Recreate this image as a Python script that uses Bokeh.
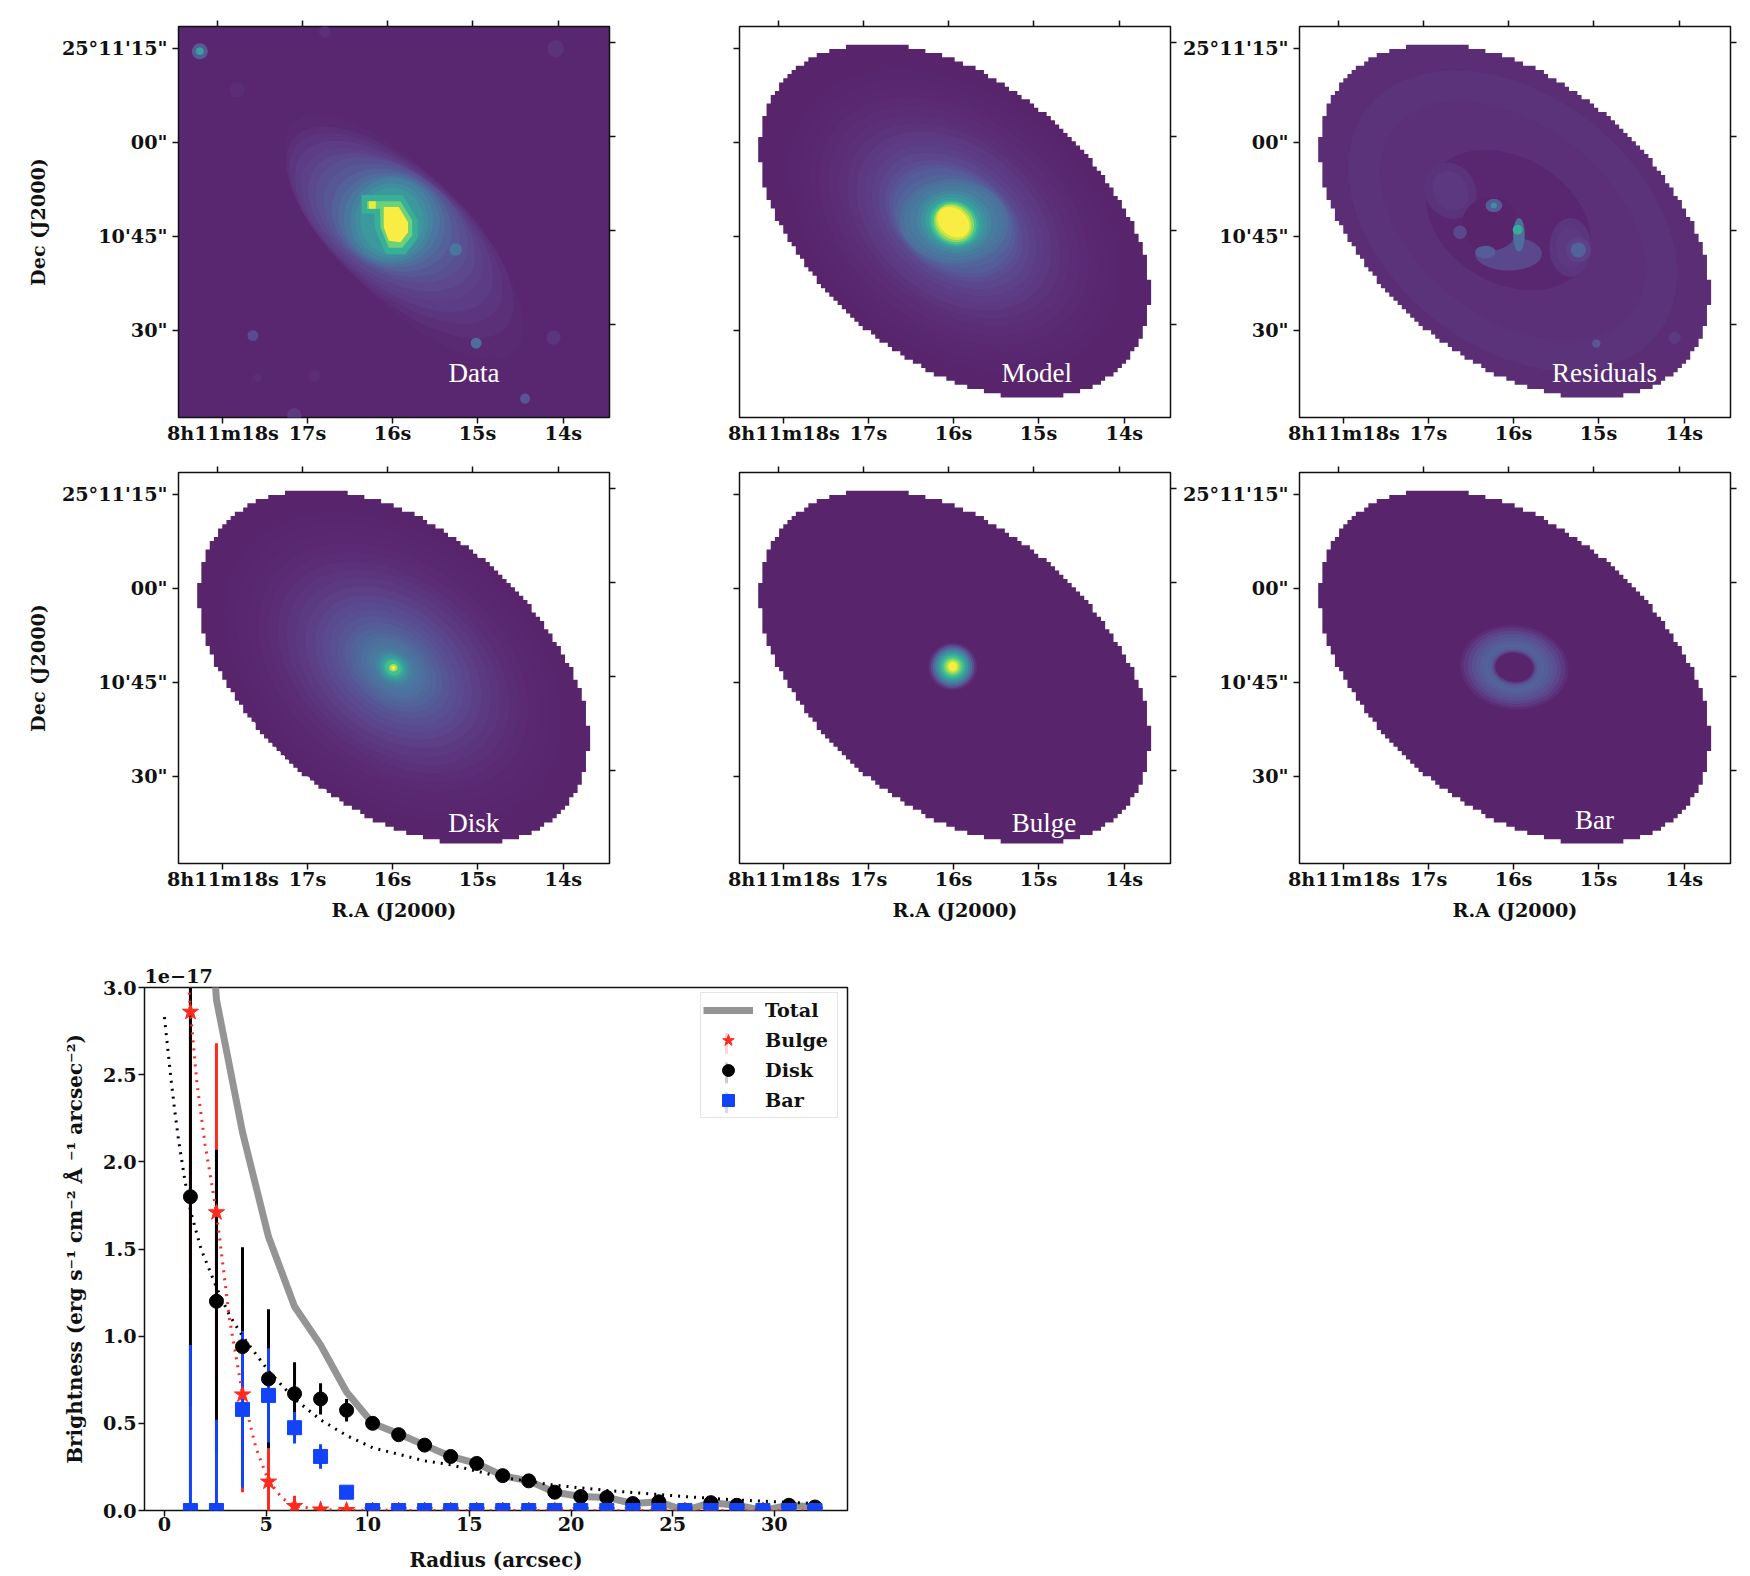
from bokeh.plotting import figure
from bokeh.layouts import column, row
from bokeh.models import (ColumnDataSource, FixedTicker, Label, Legend, LegendItem, LinearAxis,
                          LinearColorMapper, Range1d)
from bokeh.palettes import Viridis256
from bokeh.transform import transform
from bokeh.embed import file_html
from bokeh.resources import INLINE

FONT = "DejaVu Serif"
TICK_PX = "19.2px"

# ---------- image panels: values, in image-pixel coordinates ----------
x_tick_vals = [10.62, 30.86, 51.2, 71.53, 92.06]
x_tick_text = ["8h11m18s", "17s", "16s", "15s", "14s"]
x_top_vals = [9.35, 29.6, 49.9, 70.3, 90.8]
y_tick_vals = [87.8, 65.5, 43.2, 20.7]
y_tick_text = ["25°11'15\"", "00\"", "10'45\"", "30\""]
y_right_vals = [89.2, 67.0, 44.6, 22.1]

# left edge (in image pixels from the leftmost mask pixel) of each mask row, from the top
mask_left = [21, 17, 14, 12, 11, 9, 8, 7, 6, 5, 5, 4, 3, 3, 2, 2, 2, 1, 1, 1, 1, 1, 0, 0, 0, 0, 0, 0,
             1, 1, 1, 1, 1, 1, 2, 2, 2, 3, 3, 4, 4, 4, 5, 6, 6, 7, 7, 8, 9, 9, 10, 11, 11, 12, 13, 14,
             14, 15, 16, 17, 18, 19, 20, 21, 22, 23, 24, 25, 27, 28, 29, 31, 32, 34, 35, 37, 39, 40,
             42, 45, 47, 50, 54, 58]
mask_right = [94 - v for v in reversed(mask_left)]
mask_x0 = 4.47
mask_y_top = 88.77

# isophotes: (centre x, centre y, semi-major, semi-minor, angle deg, level)
model_iso = [
    (51.3, 46.8, 47, 32.5, -38, .006), (51.3, 46.8, 44, 30.5, -38, .010), (51.3, 46.8, 41, 28.5, -38, .014),
    (51.3, 46.8, 38.5, 26.7, -38, .018), (51.3, 46.8, 36, 25, -38, .024), (51.3, 46.8, 33.5, 23, -38, .032),
    (51.3, 46.8, 31, 21, -38, .042), (51.3, 46.8, 28.5, 19.5, -38, .053), (51.3, 46.8, 26, 18, -38, .067),
    (51.3, 46.8, 24, 16.5, -38, .082), (51.3, 46.8, 22, 15, -38, .10), (51.3, 46.8, 20, 13.7, -37, .12),
    (51.3, 46.8, 18, 12.5, -35, .145), (51.3, 46.8, 16.7, 12, -32, .17), (51.3, 46.8, 15.5, 11.5, -30, .2),
    (51.3, 46.7, 14.2, 10.7, -18, .235),
    (51.3, 46.7, 13, 10, -5, .27), (51.3, 46.7, 12, 9.3, -5, .30), (51.3, 46.7, 10.5, 8.4, -5, .33),
    (51.3, 46.6, 9, 7.4, -10, .38), (51.3, 46.6, 8, 6.6, -15, .43), (51.3, 46.5, 7, 5.9, -20, .5),
    (51.3, 46.3, 6.2, 5.3, -25, .58), (51.3, 46.3, 5.6, 4.9, -30, .68), (51.3, 46.3, 5, 4.4, -35, .8),
    (51.2, 46.4, 4.6, 3.8, -40, .92), (51.2, 46.5, 4.2, 3.2, -40, 1.0),
]
disk_iso = [
    (51.4, 46.7, 48, 33, -38, .006), (51.4, 46.7, 45, 31, -38, .010), (51.4, 46.7, 42, 29, -38, .014),
    (51.4, 46.7, 39, 27, -38, .018), (51.4, 46.7, 36, 25, -38, .024), (51.4, 46.7, 33.5, 23, -38, .032),
    (51.4, 46.7, 31, 21, -38, .045), (51.4, 46.7, 28.5, 19.5, -38, .058), (51.4, 46.7, 26, 18, -38, .072),
    (51.4, 46.7, 23.5, 16.2, -38, .09), (51.4, 46.7, 21, 14.5, -38, .11), (51.4, 46.7, 19, 13, -38, .13),
    (51.4, 46.7, 17, 11.5, -38, .15), (51.4, 46.7, 15, 10.2, -38, .175), (51.4, 46.7, 13, 9, -38, .2),
    (51.4, 46.6, 11.5, 8, -38, .225), (51.4, 46.6, 10, 7, -38, .25), (51.4, 46.6, 8.7, 6.2, -38, .27),
    (51.4, 46.6, 7.5, 5.5, -38, .29), (51.4, 46.6, 6.5, 4.7, -38, .31), (51.4, 46.6, 5.5, 4, -38, .33),
    (51.4, 46.6, 4.7, 3.6, -35, .36), (51.4, 46.6, 4, 3.2, -35, .4), (51.4, 46.6, 3.5, 2.8, -35, .45),
    (51.4, 46.6, 3, 2.5, -35, .5), (51.4, 46.6, 2.5, 2.1, -35, .57), (51.4, 46.6, 2, 1.7, -35, .65),
    (51.4, 46.6, 1, .9, 0, .85), (51.4, 46.6, .5, .5, 0, 1.0),
]
bulge_iso = [
    (51.0, 46.9, 5.8, 5.6, 0, .05), (51.0, 46.9, 5.2, 5.1, 0, .15), (51.0, 46.9, 4.7, 4.6, 0, .25),
    (51.0, 46.9, 4.2, 4.1, 0, .35), (51.0, 46.9, 3.7, 3.6, 0, .45), (51.0, 46.9, 3.2, 3.1, 0, .55),
    (51.0, 46.9, 2.7, 2.6, 0, .65), (51.0, 46.9, 2.2, 2.1, 0, .75), (51.0, 46.9, 1.7, 1.7, 0, .85),
    (51.0, 46.9, 1.3, 1.3, 0, .93), (51.0, 46.9, 1.0, 1.0, 0, 1.0),
]
bar_iso = [
    (51.4, 46.7, 13, 10, -6, .035), (51.4, 46.7, 12.2, 9.4, -6, .07), (51.4, 46.7, 11.2, 8.7, -6, .11),
    (51.4, 46.7, 10.2, 8, -6, .15), (51.4, 46.7, 9.2, 7.2, -6, .18), (51.4, 46.7, 8.2, 6.4, -6, .205),
    (51.4, 46.7, 7.2, 5.7, -6, .225), (51.4, 46.7, 6.2, 4.9, -6, .21), (51.4, 46.7, 5.5, 4.3, -6, .16),
    (51.4, 46.7, 5, 3.9, -6, .08), (51.4, 46.7, 4.6, 3.5, -6, 0),
]
data_iso = [
    (54, 43, 38, 15, -46, .02), (53, 44, 34, 15, -42, .04), (52, 45, 31, 14.5, -40, .06),
    (51.5, 45.5, 28, 14, -38, .08), (51, 46, 25, 13.5, -36, .10), (51, 46.5, 22.5, 13, -34, .125),
    (51, 47, 20, 12.5, -32, .15), (51, 47, 17.5, 12, -30, .18), (51, 47, 15, 11.5, -27, .22),
    (51, 47, 13, 11, -22, .26), (51, 47, 11.5, 10.5, -15, .31), (51, 47, 10, 10, 0, .36),
    (51, 46.8, 8.8, 9, 0, .41), (51, 46.8, 7.5, 8, 0, .47),
]
resid_iso = [
    (51, 46.8, 44, 30, -38, .048), (51, 46.8, 36, 23, -38, .04), (50, 47, 21, 15, -30, .012),
    (36.1, 54, 7, 6, -60, .05), (36.1, 54, 5, 4, -60, .065), (64.8, 40.5, 5, 7, 0, .055), (64.8, 40.5, 3.5, 5, 0, .07),
    (50, 39, 8, 4, 0, .12), (66.7, 39.9, 3, 3, 0, .1),
    (45.7, 46.1, 6.8, 6.4, 0, 0), (66.7, 39.9, 1.8, 1.8, 0, .22), (44.5, 39.4, 2.4, 1.5, 0, .2),
    (38.4, 44.1, 1.6, 1.6, 0, .12), (52.5, 43.5, 1.4, 4, 0, .27), (46.5, 50.5, 2, 1.6, 0, .2),
    (71, 17.6, 1, 1, 0, .18), (89.7, 19, 1.5, 1.5, 0, .07),
]
data_spots = [  # (x, y, half size, level)
    (5.1, 87.2, 1.9, .2), (5.1, 87.2, .9, .5), (90.2, 87.8, 2, .05), (17.8, 19.5, 1.3, .13), (71.2, 17.7, 1.3, .27),
    (89.7, 19, 1.7, .06), (82.9, 4.5, 1.2, .17), (66.3, 40, 1.5, .3), (35, 91.8, 1.4, .04), (14, 78, 1.8, .035),
    (27.7, .5, 1.7, .07), (19, 9.6, 1, .035), (32.6, 10, 1.5, .03),
]
resid_spots = [(46.5, 50.5, .7, .42), (52.2, 44.7, 1.2, .55)]
data_polys = [  # (xs, ys, level)
    ([43.8, 53.6, 57.2, 57.2, 54.2, 49.6, 47, 46.8, 43.8], [53, 53, 47, 42.8, 38.9, 38.9, 45, 48.5, 48.5], .58),
    ([45.1, 53.1, 55.9, 55.9, 53.5, 50.3, 48.3, 48.2, 45.1], [51.5, 51.5, 46.9, 43.3, 40.4, 40.4, 45.3, 49.7, 49.7], .75),
    ([49.1, 52.7, 54.9, 54.9, 53.1, 50.3, 49.1], [50.1, 50.1, 46.5, 44.1, 41.7, 42.1, 45.3], 1.0),
    ([45.5, 47.2, 47.2, 45.5], [51.5, 51.5, 49.7, 49.7], .98),
]

# ---------- radial profile ----------
radius = [1.28, 2.56, 3.84, 5.12, 6.40, 7.68, 8.96, 10.24, 11.52, 12.80, 14.08, 15.36, 16.64, 17.92, 19.20,
          20.48, 21.76, 23.04, 24.32, 25.60, 26.88, 28.16, 29.44, 30.72, 32.00]
total = [5.0, 2.93, 2.17, 1.57, 1.17, .95, .68, .50, .44, .375, .31, .27, .20, .17, .105, .08, .075, .04, .05, 0.0,
         .045, .03, 0.0, .03, .02]
disk = [1.80, 1.20, .94, .755, .67, .64, .575, .50, .435, .375, .31, .27, .20, .17, .105, .08, .075, .04, .05, 0.0,
        .045, .03, 0.0, .03, .02]
disk_err = [1.2, .87, .57, .40, .18, .09, .065, .03, .03, .03, .02, .02, .02, .02, .02, .02, .02, .01, .01, 0, .01,
            .01, 0, .01, .01]
bulge = [2.86, 1.71, .665, .165, .025, .005, .002, 0, 0, 0, 0, 0, 0, 0, 0, 0, 0, 0, 0, 0, 0, 0, 0, 0, 0]
bulge_err = [1.5, .97, .56, .19, .06, .02, .01, 0, 0, 0, 0, 0, 0, 0, 0, 0, 0, 0, 0, 0, 0, 0, 0, 0, 0]
bar = [0, 0, .58, .66, .475, .31, .105, 0, 0, 0, 0, 0, 0, 0, 0, 0, 0, 0, 0, 0, 0, 0, 0, 0, 0]
bar_err = [.95, .52, .45, .27, .09, .07, .035, 0, 0, 0, 0, 0, 0, 0, 0, 0, 0, 0, 0, 0, 0, 0, 0, 0, 0]
disk_fit_r = [0.0, .1, .3, .5, .7, 1.0, 1.28, 1.8, 2.56, 3.2, 3.84, 5.12, 6.4, 7.68, 8.96, 10.24, 12.8, 14.08, 16.64,
              19.2, 21.76, 25.6, 28.16, 32.0]
disk_fit = [2.83, 2.72, 2.5, 2.3, 2.12, 1.9, 1.72, 1.5, 1.28, 1.12, 1.0, .8, .64, .52, .43, .36, .285, .262, .19,
            .145, .115, .08, .06, .04]
bulge_fit_r = [1.1, 1.28, 1.6, 2.0, 2.56, 3.2, 3.84, 4.5, 5.12, 5.8, 6.4, 7.68, 8.96, 10.24, 15.0, 25.0, 32.0]
bulge_fit = [3.2, 2.86, 2.45, 2.1, 1.71, 1.1, .67, .36, .17, .07, .025, .006, .002, .001, 0, 0, 0]

# ---------- helpers ----------
palette = []
for c in Viridis256:
    r, g, b = int(c[1:3], 16), int(c[3:5], 16), int(c[5:7], 16)
    palette.append("#%02x%02x%02x" % (min(255, round(.87 * r + 29)), min(255, round(.87 * g + 35)),
                                      min(255, round(.87 * b + 35))))
mapper = LinearColorMapper(palette=palette, low=0, high=1)


def lev(v):
    return palette[min(255, int(v * 255))]


def style_axis(ax):
    ax.axis_line_color = None
    ax.major_tick_line_color = "#111111"
    ax.major_tick_line_width = 1.5
    ax.major_tick_out = 6
    ax.major_tick_in = 0
    ax.minor_tick_line_color = None
    ax.major_label_text_font = FONT
    ax.major_label_text_font_style = "bold"
    ax.major_label_text_font_size = TICK_PX
    ax.major_label_text_color = "#111111"
    ax.axis_label_text_font = FONT
    ax.axis_label_text_font_style = "bold"
    ax.axis_label_text_font_size = TICK_PX
    ax.axis_label_text_color = "#111111"


def hide_labels(ax, ticks):
    ax.major_label_overrides = {t: "" for t in ticks}
    ax.major_label_text_font_size = "1px"
    ax.major_label_standoff = 0


def panel(width, height, left, right, top, bottom, ylab, ylabel_text, xlabel_text, bg="white"):
    p = figure(width=width, height=height, x_range=Range1d(0, 103.1), y_range=Range1d(0, 93.1),
               output_backend="svg", toolbar_location=None, tools="",
               min_border_left=left, min_border_right=right, min_border_top=top, min_border_bottom=bottom,
               background_fill_color=bg, outline_line_color="#111111", outline_line_width=1.5)
    p.grid.visible = False
    style_axis(p.xaxis[0])
    style_axis(p.yaxis[0])
    p.xaxis[0].ticker = FixedTicker(ticks=x_tick_vals)
    p.xaxis[0].major_label_overrides = dict(zip(x_tick_vals, x_tick_text))
    p.xaxis[0].major_label_standoff = -2
    p.yaxis[0].ticker = FixedTicker(ticks=y_tick_vals)
    p.yaxis[0].major_label_overrides = dict(zip(y_tick_vals, y_tick_text))
    p.yaxis[0].major_label_standoff = 5
    if not ylab:
        hide_labels(p.yaxis[0], y_tick_vals)
    if ylabel_text:
        p.yaxis[0].axis_label = ylabel_text
        p.yaxis[0].axis_label_standoff = 9
    if xlabel_text:
        p.xaxis[0].axis_label = xlabel_text
        p.xaxis[0].axis_label_standoff = 5
    top_ax = LinearAxis(ticker=FixedTicker(ticks=x_top_vals))
    style_axis(top_ax)
    hide_labels(top_ax, x_top_vals)
    p.add_layout(top_ax, "above")
    right_ax = LinearAxis(ticker=FixedTicker(ticks=y_right_vals))
    style_axis(right_ax)
    hide_labels(right_ax, y_right_vals)
    p.add_layout(right_ax, "right")
    return p


def add_mask(p, level):
    xs, ys = [], []
    for i, c in enumerate(mask_left):
        xs += [mask_x0 + c, mask_x0 + c]
        ys += [mask_y_top - i, mask_y_top - i - 1]
    for i in range(len(mask_right) - 1, -1, -1):
        xs += [mask_x0 + mask_right[i], mask_x0 + mask_right[i]]
        ys += [mask_y_top - i - 1, mask_y_top - i]
    p.patch(xs, ys, fill_color=lev(level), line_color=None)


def add_iso(p, iso):
    for cx, cy, a, b, deg, v in iso:
        p.ellipse(x=[cx], y=[cy], width=[2 * a], height=[2 * b], angle=[deg], angle_units="deg",
                  fill_color=lev(v), line_color=None)


def add_spots(p, spots):
    src = ColumnDataSource(dict(x=[s[0] for s in spots], y=[s[1] for s in spots],
                                w=[2 * s[2] for s in spots], v=[s[3] for s in spots]))
    p.ellipse(x="x", y="y", width="w", height="w", source=src,
              fill_color=transform("v", mapper), line_color=None)


def add_label(p, text, x, y):
    p.add_layout(Label(x=x, y=y, text=text, text_color="white", text_font="Liberation Serif",
                       text_font_size="27px", text_align="left", text_baseline="alphabetic"))


DEC = "Dec (J2000)"
RA = "R.A (J2000)"
p1 = panel(660, 462, 178, 51, 26, 45, True, DEC, None, bg=lev(.012))
add_iso(p1, data_iso)
for xs, ys, v in data_polys:
    p1.patch(xs, ys, fill_color=lev(v), line_color=None)
add_spots(p1, data_spots)
add_label(p1, "Data", 64.6, 10.7)

p2 = panel(518, 462, 79, 8, 26, 45, False, None, None)
add_mask(p2, .003)
add_iso(p2, model_iso)
add_label(p2, "Model", 62.7, 10.7)

p3 = panel(564, 462, 121, 12, 26, 45, True, None, None)
add_mask(p3, .03)
add_iso(p3, resid_iso)
add_spots(p3, resid_spots)
add_label(p3, "Residuals", 60.4, 10.7)

p4 = panel(660, 490, 178, 51, 10, 89, True, DEC, RA)
add_mask(p4, .003)
add_iso(p4, disk_iso)
add_label(p4, "Disk", 64.5, 9.6)

p5 = panel(518, 490, 79, 8, 10, 89, False, None, RA)
add_mask(p5, .003)
add_iso(p5, bulge_iso)
add_label(p5, "Bulge", 65.1, 9.6)

p6 = panel(564, 490, 121, 12, 10, 89, True, None, RA)
add_mask(p6, .003)
add_iso(p6, bar_iso)
add_label(p6, "Bar", 65.9, 10.4)

# ---------- profile plot ----------
RED = "#ff2a1e"
BLUE = "#1243f7"
GRAY = "#949494"
BLACK = "#000000"
q = figure(width=867, height=622, x_range=Range1d(-0.98, 33.6), y_range=Range1d(0, 3.0),
           output_backend="svg", toolbar_location=None, tools="", title="1e−17",
           min_border_left=144, min_border_right=20, min_border_top=35, min_border_bottom=64,
           outline_line_color="#111111", outline_line_width=1.5)
q.title.text_font = FONT
q.title.text_font_style = "bold"
q.title.text_font_size = TICK_PX
q.title.text_color = "#111111"
q.title.align = "left"
q.title.offset = 0
q.title.standoff = 10
q.grid.visible = False
style_axis(q.xaxis[0])
style_axis(q.yaxis[0])
q.xaxis[0].ticker = FixedTicker(ticks=[0, 5, 10, 15, 20, 25, 30])
q.yaxis[0].ticker = FixedTicker(ticks=[0, .5, 1, 1.5, 2, 2.5, 3])
q.yaxis[0].major_label_overrides = {0: "0.0", .5: "0.5", 1: "1.0", 1.5: "1.5", 2: "2.0", 2.5: "2.5", 3: "3.0"}
q.xaxis[0].major_label_standoff = 0
q.yaxis[0].major_label_standoff = 2
q.xaxis[0].axis_label = "Radius (arcsec)"
q.xaxis[0].axis_label_standoff = 14
q.xaxis[0].axis_label_text_font_size = "19.8px"
q.yaxis[0].axis_label = "Brightness (erg s⁻¹ cm⁻² Å ⁻¹ arcsec⁻²)"
q.yaxis[0].axis_label_text_font_size = "20px"
q.yaxis[0].axis_label_standoff = 13


def err_src(ys, es):
    return dict(x0=radius, x1=radius, y0=[a - b for a, b in zip(ys, es)], y1=[a + b for a, b in zip(ys, es)])


q.segment("x0", "y0", "x1", "y1", source=ColumnDataSource(err_src(bulge, bulge_err)), line_color=RED, line_width=3)
q.segment("x0", "y0", "x1", "y1", source=ColumnDataSource(err_src(disk, disk_err)), line_color=BLACK, line_width=3)
q.segment("x0", "y0", "x1", "y1", source=ColumnDataSource(err_src(bar, bar_err)), line_color=BLUE, line_width=3)
r_total = q.line(radius, total, line_color=GRAY, line_width=7)
q.line(disk_fit_r, disk_fit, line_color=BLACK, line_width=3, line_dash="2 6")
q.line(bulge_fit_r, bulge_fit, line_color=RED, line_width=3, line_dash="2 6")
r_bulge = q.scatter(radius, bulge, marker="star", size=17, fill_color=RED, line_color=RED)
r_disk = q.scatter(radius, disk, marker="circle", size=14, fill_color=BLACK, line_color=BLACK)
r_bar = q.scatter(radius, bar, marker="square", size=14, fill_color=BLUE, line_color=BLUE)

legend = Legend(items=[
    LegendItem(label="Total", renderers=[r_total]),
    LegendItem(label="Bulge", renderers=[r_bulge]),
    LegendItem(label="Disk", renderers=[r_disk]),
    LegendItem(label="Bar", renderers=[r_bar]),
], location=(556, 392), margin=0, padding=2, spacing=0, glyph_width=50, glyph_height=30, label_height=24,
    label_width=70, label_standoff=12, label_text_font=FONT, label_text_font_style="bold",
    label_text_font_size=TICK_PX, label_text_color="#111111", border_line_color="#cccccc", border_line_width=1.5,
    background_fill_alpha=.8, level="guide")
q.add_layout(legend)
# the legend keys' vertical error strokes, in the legend's box
key_x = [27.65, 27.65, 27.65]
key_lo = [2.62, 2.45, 2.28]
key_hi = [2.74, 2.57, 2.40]
q.segment(x0=key_x, y0=key_lo, x1=key_x, y1=key_hi, line_color=[RED, BLACK, BLUE], line_width=3, level="overlay")

page = column(row(p1, p2, p3), row(p4, p5, p6), q)
open("out.html", "w").write(file_html(page, INLINE))
